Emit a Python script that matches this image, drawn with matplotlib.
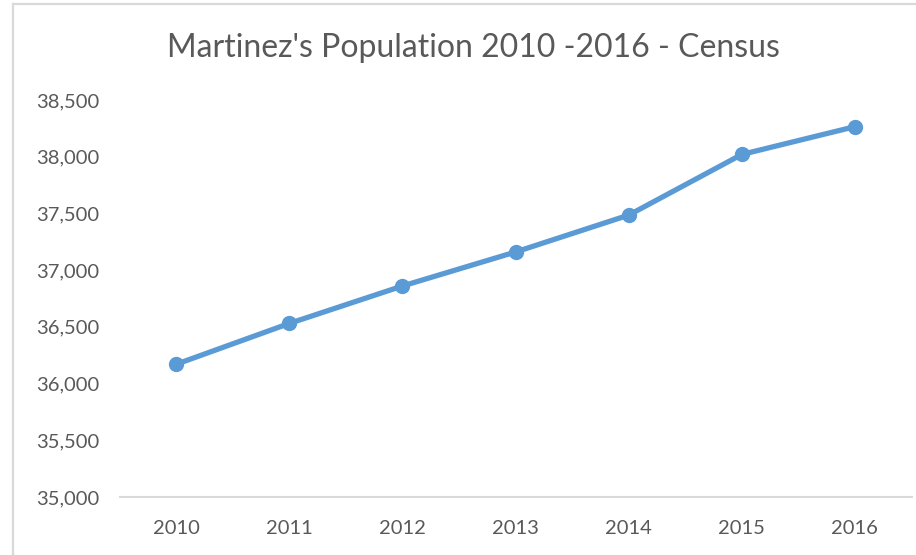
import matplotlib
matplotlib.use("Agg")
import matplotlib.pyplot as plt
from matplotlib.lines import Line2D
from matplotlib.ticker import FuncFormatter

# Census population
years = ["2010", "2011", "2012", "2013", "2014", "2015", "2016"]
population = [36170, 36530, 36860, 37160, 37485, 38020, 38265]
y_ticks = [35000, 35500, 36000, 36500, 37000, 37500, 38000, 38500]

plt.rcParams['font.family'] = ['Lato', 'DejaVu Sans']
text_grey = "#595959"
line_blue = "#5B9BD5"

fig = plt.figure(figsize=(9.16, 5.55), dpi=100)
ax = fig.add_axes([119.5 / 916, 1 - 497 / 555, 792 / 916, 397 / 555])

x = list(range(len(years)))
ax.plot(x, population, color=line_blue, linewidth=3.8, marker="o",
        markersize=10, solid_capstyle="round", solid_joinstyle="round")

ax.set_xlim(-0.5, len(years) - 0.5)
ax.set_ylim(y_ticks[0], y_ticks[-1])
ax.set_xticks(x)
ax.set_xticklabels(years)
ax.set_yticks(y_ticks)
ax.yaxis.set_major_formatter(FuncFormatter(lambda v, p: f"{int(v):,}"))

for side in ["top", "right", "left"]:
    ax.spines[side].set_visible(False)
ax.spines["bottom"].set_color("#d9d9d9")
ax.spines["bottom"].set_linewidth(1.5)
ax.spines["bottom"].set_zorder(0)

ax.tick_params(axis="both", length=0, labelsize=14.5, labelcolor=text_grey)
ax.tick_params(axis="y", pad=14.5)
ax.tick_params(axis="x", pad=16.5)

fig.text(473 / 916, 1 - 48 / 555, "Martinez's Population 2010 -2016 - Census",
         ha="center", va="center", fontsize=23, color=text_grey)

# chart area border (only top and left edges are visible in the crop)
fig.add_artist(Line2D([13 / 916, 1], [1 - 4 / 555, 1 - 4 / 555],
                      color="#d9d9d9", linewidth=1.6))
fig.add_artist(Line2D([13 / 916, 13 / 916], [0, 1 - 4 / 555],
                      color="#d9d9d9", linewidth=1.6))

fig.savefig("out.png", dpi=100)
